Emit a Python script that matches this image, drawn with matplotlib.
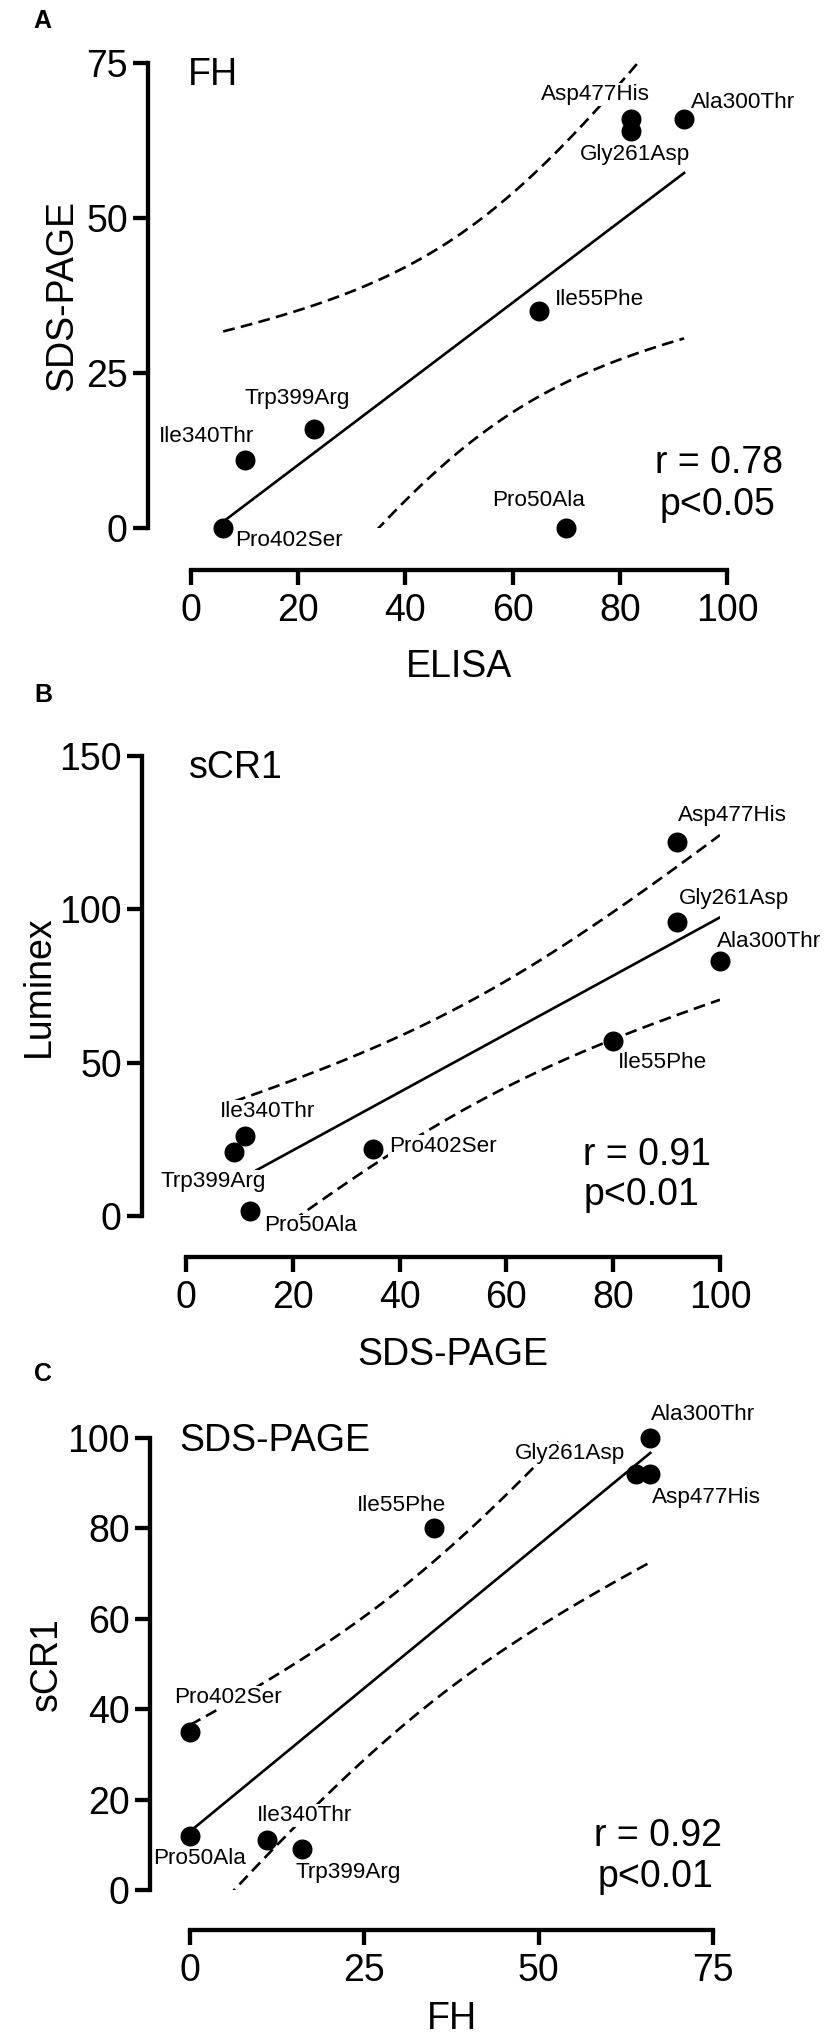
import numpy as np
import matplotlib
matplotlib.use("Agg")
import matplotlib.pyplot as plt

plt.rcParams['font.family'] = ['Liberation Sans', 'DejaVu Sans']

# ---------------- data ----------------
mutations = ["Pro402Ser", "Ile340Thr", "Trp399Arg", "Ile55Phe",
             "Pro50Ala", "Gly261Asp", "Asp477His", "Ala300Thr"]
fh_elisa = [6, 10, 23, 65, 70, 82, 82, 92]          # panel A x
fh_sds = [0, 11, 16, 35, 0, 64, 66, 66]             # panel A y / panel C x
scr1_sds = [35, 11, 9, 80, 12, 92, 92, 100]         # panel B x / panel C y
scr1_luminex = [22, 26, 21, 57, 1.5, 96, 122, 83]   # panel B y

stats_a = ["r = 0.78", "p<0.05"]
stats_b = ["r = 0.91", "p<0.01"]
stats_c = ["r = 0.92", "p<0.01"]

T_CRIT = 2.447  # two-sided 95%, df = 6

W, H = 827, 2038
PX = 0.72  # points per pixel at dpi 100

fig = plt.figure(figsize=(W / 100, H / 100), dpi=100)


def fit_band(x, y):
    x = np.asarray(x, float)
    y = np.asarray(y, float)
    n = len(x)
    slope, intercept = np.polyfit(x, y, 1)
    xs = np.linspace(x.min(), x.max(), 300)
    yhat = intercept + slope * xs
    resid = y - (intercept + slope * x)
    s = np.sqrt(np.sum(resid ** 2) / (n - 2))
    sxx = np.sum((x - x.mean()) ** 2)
    hw = T_CRIT * s * np.sqrt(1.0 / n + (xs - x.mean()) ** 2 / sxx)
    return xs, yhat, yhat - hw, yhat + hw


# label offsets (ha, dx px, dy px down) relative to the point
off_a = {"Pro402Ser": ("left", 12, 10), "Ile340Thr": ("center", -38, -26),
         "Trp399Arg": ("center", -17, -33), "Ile55Phe": ("left", 15, -14),
         "Pro50Ala": ("center", -28, -30), "Gly261Asp": ("center", 4, 21),
         "Asp477His": ("center", -35, -27), "Ala300Thr": ("left", 7, -19)}
off_b = {"Pro402Ser": ("left", 16, -5), "Ile340Thr": ("center", 23, -27),
         "Trp399Arg": ("center", -21, 27), "Ile55Phe": ("left", 5, 19),
         "Pro50Ala": ("left", 14, 12), "Gly261Asp": ("left", 2, -26),
         "Asp477His": ("left", 1, -29), "Ala300Thr": ("left", -3, -22)}
off_c = {"Pro402Ser": ("center", 38, -37), "Ile340Thr": ("center", 38, -27),
         "Trp399Arg": ("center", 47, 21), "Ile55Phe": ("center", -33, -25),
         "Pro50Ala": ("center", 10, 20), "Gly261Asp": ("right", -11, -23),
         "Asp477His": ("left", 2, 21), "Ala300Thr": ("left", 1, -26)}

panels = [
    dict(letter="A", x=fh_elisa, y=fh_sds, xlim=(0, 100), ylim=(0, 75),
         xticks=[0, 20, 40, 60, 80, 100], yticks=[0, 25, 50, 75],
         box=(191, 727, 63, 528), spine=(148, 570),
         xlabel="ELISA", ylabel="SDS-PAGE", title="FH",
         title_xy=(188, 85), letter_xy=(33, 28), ylabel_x=80, xlabel_top=649,
         stats=stats_a, stats_xy=[(719, 473), (718, 515)], off=off_a),
    dict(letter="B", x=scr1_sds, y=scr1_luminex, xlim=(0, 100), ylim=(0, 150),
         xticks=[0, 20, 40, 60, 80, 100], yticks=[0, 50, 100, 150],
         box=(186, 720, 756, 1216), spine=(142, 1257),
         xlabel="SDS-PAGE", ylabel="Luminex", title="sCR1",
         title_xy=(189, 778), letter_xy=(34, 702), ylabel_x=57, xlabel_top=1337,
         stats=stats_b, stats_xy=[(647, 1165), (642, 1205)], off=off_b),
    dict(letter="C", x=fh_sds, y=scr1_sds, xlim=(0, 75), ylim=(0, 100),
         xticks=[0, 25, 50, 75], yticks=[0, 20, 40, 60, 80, 100],
         box=(190, 713, 1438, 1890), spine=(150, 1930),
         xlabel="FH", ylabel="sCR1", title="SDS-PAGE",
         title_xy=(179, 1451), letter_xy=(34, 1381), ylabel_x=65, xlabel_top=2001,
         stats=stats_c, stats_xy=[(658, 1846), (656, 1887)], off=off_c),
]

for p in panels:
    x0, x1, yt, yb = p["box"]
    ax = fig.add_axes([x0 / W, 1 - yb / H, (x1 - x0) / W, (yb - yt) / H])
    ax.set_xlim(*p["xlim"])
    ax.set_ylim(*p["ylim"])
    ax.patch.set_visible(False)

    for side in ("top", "right"):
        ax.spines[side].set_visible(False)
    ax.spines["left"].set_position(("outward", (x0 - p["spine"][0]) * PX))
    ax.spines["bottom"].set_position(("outward", (p["spine"][1] - yb) * PX))
    ax.spines["left"].set_bounds(*p["ylim"])
    ax.spines["bottom"].set_bounds(*p["xlim"])
    for side in ("left", "bottom"):
        ax.spines[side].set_linewidth(3.1)

    ax.set_xticks(p["xticks"])
    ax.set_yticks(p["yticks"])
    ax.tick_params(axis="both", direction="out", length=10.5, width=3.1,
                   labelsize=27)
    ax.tick_params(axis="y", pad=4)
    ax.tick_params(axis="x", pad=6)

    ax.set_xlabel(p["xlabel"], fontsize=27)
    ax.set_ylabel(p["ylabel"], fontsize=27)
    ax.yaxis.set_label_coords((p["ylabel_x"] - x0) / (x1 - x0), 0.5)
    ax.xaxis.set_label_coords(0.5, (yb - p["xlabel_top"]) / (yb - yt))

    xs, yhat, lo, hi = fit_band(p["x"], p["y"])
    ax.plot(xs, yhat, color="black", lw=1.9, zorder=2)
    for band in (lo, hi):
        ax.plot(xs, band, color="black", lw=1.9, ls=(0, (4.5, 2.4)), zorder=2)

    ax.plot(p["x"], p["y"], "o", ms=14.4, mew=0, color="black",
            clip_on=False, zorder=5)

    for name, xv, yv in zip(mutations, p["x"], p["y"]):
        ha, dx, dy = p["off"][name]
        ax.annotate(name, (xv, yv), xytext=(dx * PX, -(dy + 8) * PX),
                    textcoords="offset points", ha=ha, va="baseline",
                    fontsize=16.2, zorder=4, annotation_clip=False,
                    bbox=dict(facecolor="white", edgecolor="none", pad=0.6))

    fig.text(p["title_xy"][0] / W, 1 - p["title_xy"][1] / H, p["title"],
             fontsize=27, ha="left", va="baseline")
    fig.text(p["letter_xy"][0] / W, 1 - p["letter_xy"][1] / H, p["letter"],
             fontsize=18, fontweight="bold", ha="left", va="baseline")
    for s, (sx, sy) in zip(p["stats"], p["stats_xy"]):
        fig.text(sx / W, 1 - sy / H, s, fontsize=27, ha="center", va="baseline")

fig.savefig("out.png", dpi=100)
